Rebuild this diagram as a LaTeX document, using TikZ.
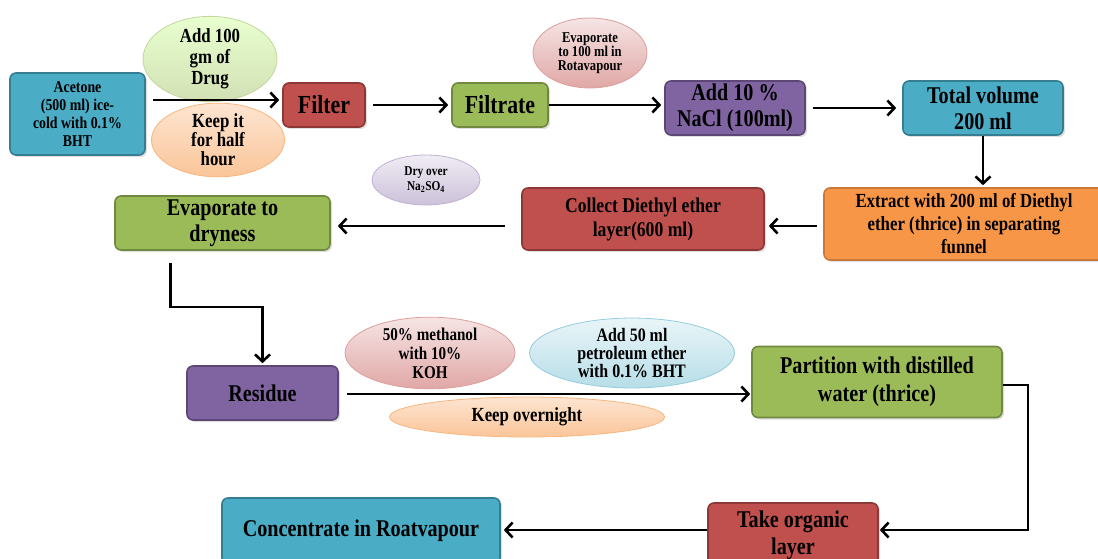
\documentclass[tikz,border=0pt]{standalone}
\usepackage{fontspec}
\setmainfont[FakeStretch=0.84]{Liberation Serif}
\usepackage{tikz}
\usetikzlibrary{arrows.meta,shadows,shapes.geometric}

\definecolor{bluebox}{HTML}{4BACC6}
\definecolor{blueline}{HTML}{357D91}
\definecolor{redbox}{HTML}{C0504D}
\definecolor{redline}{HTML}{8C3836}
\definecolor{greenbox}{HTML}{9BBB59}
\definecolor{greenline}{HTML}{71893F}
\definecolor{purplebox}{HTML}{8064A2}
\definecolor{purpleline}{HTML}{5C4776}
\definecolor{orangebox}{HTML}{F79646}
\definecolor{orangeline}{HTML}{C77A3A}

\begin{document}
\begin{tikzpicture}[x=1pt,y=-1pt]
\tikzstyle{box} = [draw,rounded corners=6pt,line width=1.6pt,align=center,inner sep=2pt,
  font=\bfseries,drop shadow={opacity=0.25,shadow xshift=2pt,shadow yshift=-2pt}]
\tikzstyle{bluestep} = [box,fill=bluebox,draw=blueline]
\tikzstyle{redstep} = [box,fill=redbox,draw=redline]
\tikzstyle{greenstep} = [box,fill=greenbox,draw=greenline]
\tikzstyle{purplestep} = [box,fill=purplebox,draw=purpleline]
\tikzstyle{orangestep} = [box,fill=orangebox,draw=orangeline]
\tikzstyle{cond} = [ellipse,line width=0.8pt,inner sep=0pt,align=center,font=\bfseries]
\tikzstyle{greencond} = [cond,top color=green!10!white!90!yellow,bottom color=greenbox!45,draw=greenbox!60]
\tikzstyle{orangecond} = [cond,top color=orangebox!25,bottom color=orangebox!55,draw=orangebox!70]
\tikzstyle{pinkcond} = [cond,top color=redbox!15,bottom color=redbox!50,draw=redbox!55]
\tikzstyle{lilaccond} = [cond,top color=purplebox!12,bottom color=purplebox!40,draw=purplebox!50]
\tikzstyle{cyancond} = [cond,top color=bluebox!12,bottom color=bluebox!40,draw=bluebox!60]
\tikzstyle{flow} = [-{Straight Barb[length=7pt,width=15pt,line width=2.6pt]},line width=2.6pt,black]

\useasboundingbox (0,0) rectangle (1098,559);

\node[bluestep,minimum width=135pt,minimum height=82pt,font=\bfseries\fontsize{16.5}{18}\selectfont]
  (acetone) at (77.5,114) {Acetone\\(500 ml) ice-\\cold with 0.1\%\\BHT};
\node[redstep,minimum width=82pt,minimum height=44pt,font=\bfseries\fontsize{26}{28}\selectfont]
  (filter) at (324,105) {Filter};
\node[greenstep,minimum width=96pt,minimum height=44pt,font=\bfseries\fontsize{26}{28}\selectfont]
  (filtrate) at (500,105) {Filtrate};
\node[purplestep,minimum width=140pt,minimum height=54pt,font=\bfseries\fontsize{24}{26}\selectfont]
  (nacl) at (735,108) {Add 10 \%\\NaCl (100ml)};
\node[bluestep,minimum width=160pt,minimum height=54pt,font=\bfseries\fontsize{24}{26}\selectfont]
  (total) at (983,108) {Total volume\\200 ml};
\node[orangestep,minimum width=280pt,minimum height=72pt,font=\bfseries\fontsize{20}{23}\selectfont]
  (extract) at (964,224) {Extract with 200 ml of Diethyl\\ether (thrice) in separating\\funnel};
\node[redstep,minimum width=242pt,minimum height=62pt,font=\bfseries\fontsize{21}{24}\selectfont]
  (collect) at (643,219) {Collect Diethyl ether\\layer(600 ml)};
\node[greenstep,minimum width=215pt,minimum height=54pt,font=\bfseries\fontsize{24}{26}\selectfont]
  (evaporate) at (222.5,223) {Evaporate to\\dryness};
\node[purplestep,minimum width=151pt,minimum height=54pt,font=\bfseries\fontsize{24}{26}\selectfont]
  (residue) at (262.5,393) {Residue};
\node[greenstep,minimum width=250pt,minimum height=71pt,font=\bfseries\fontsize{24}{28}\selectfont]
  (partition) at (877,382) {Partition with distilled\\water (thrice)};
\node[redstep,minimum width=170pt,minimum height=64pt,font=\bfseries\fontsize{24}{27}\selectfont]
  (organic) at (793,535) {Take organic\\layer};
\node[bluestep,minimum width=278pt,minimum height=66pt,font=\bfseries\fontsize{24}{26}\selectfont]
  (concentrate) at (361,531) {Concentrate in Roatvapour};

\node[greencond,minimum width=134pt,minimum height=62pt,font=\bfseries\fontsize{20}{21}\selectfont]
  (drug) at (210,59) {Add 100\\gm of\\Drug};
\node[orangecond,minimum width=133pt,minimum height=64pt,font=\bfseries\fontsize{20}{19}\selectfont]
  (halfhour) at (218,140) {Keep it\\for half\\hour};
\node[pinkcond,minimum width=114pt,minimum height=70pt,font=\bfseries\fontsize{15}{14}\selectfont]
  (rotavap) at (590,53) {Evaporate\\to 100 ml in\\Rotavapour};
\node[lilaccond,minimum width=108pt,minimum height=50pt,font=\bfseries\fontsize{13.5}{15}\selectfont]
  (dryover) at (426,180) {Dry over\\Na\textsubscript{2}SO\textsubscript{4}};
\node[pinkcond,minimum width=170pt,minimum height=62pt,font=\bfseries\fontsize{18}{19}\selectfont]
  (methanol) at (430,353) {50\% methanol\\with 10\%\\KOH};
\node[cyancond,minimum width=205pt,minimum height=64pt,font=\bfseries\fontsize{19}{18}\selectfont]
  (petroleum) at (632,353) {Add 50 ml\\petroleum ether\\with 0.1\% BHT};
\node[orangecond,minimum width=275pt,minimum height=40pt,font=\bfseries\fontsize{20}{20}\selectfont]
  (overnight) at (527,417) {Keep overnight};

\draw[flow,shorten <=7pt,shorten >=3pt] (acetone.east |- 0,100) -- (filter.west |- 0,100);
\draw[flow,shorten <=7pt,shorten >=3pt] (filter.east) -- (filtrate.west);
\draw[flow,shorten >=3pt] (filtrate.east) -- (filtrate.east -| nacl.west);
\draw[flow,shorten <=7pt,shorten >=6pt] (nacl.east) -- (total.west);
\draw[flow,shorten >=2pt] (total.south) -- (total.south |- extract.north);
\draw[flow,shorten <=6pt,shorten >=4pt] (extract.west |- 0,226) -- (collect.east |- 0,226);
\draw[flow,shorten <=16pt,shorten >=7pt] (collect.west |- 0,226) -- (evaporate.east |- 0,226);
\draw[flow,shorten <=12pt,shorten >=2pt] ([xshift=-52pt]evaporate.south) -- ++(0,56) -| (residue.north);
\draw[flow,shorten <=8pt,shorten >=1pt] (residue.east |- 0,394) -- (partition.west |- 0,394);
\draw[flow,shorten >=1pt] (partition.east |- 0,385) -- ++(25,0) |- (organic.east |- 0,530);
\draw[flow,shorten >=3pt] (organic.west |- 0,530) -- (concentrate.east |- 0,530);
\end{tikzpicture}
\end{document}
